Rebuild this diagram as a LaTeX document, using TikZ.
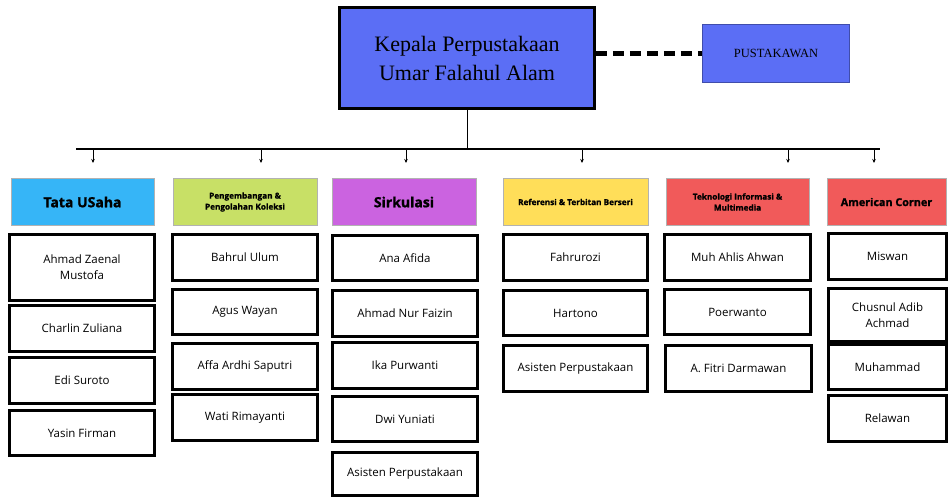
\documentclass[tikz,border=0pt]{standalone}
\usepackage{fontspec}
\setmainfont{Open Sans}
\newfontfamily\serifjudul{Liberation Serif}
\newfontfamily\tebal[BoldFeatures={FakeBold=1.2}]{Open Sans}
\usetikzlibrary{arrows.meta}

\definecolor{biruKepala}{RGB}{91,110,245}
\definecolor{biruTU}{RGB}{54,181,247}
\definecolor{hijauPP}{RGB}{200,224,102}
\definecolor{unguSK}{RGB}{203,99,224}
\definecolor{kuningRF}{RGB}{255,222,89}
\definecolor{merahTI}{RGB}{241,90,90}

\begin{document}
\begin{tikzpicture}[x=1pt, y=-1pt,
  kepala/.style={draw, line width=2.8pt, fill=biruKepala, align=center, inner sep=0pt,
    font=\serifjudul\fontsize{22}{29}\selectfont},
  pustaka/.style={draw=biruKepala!70!black, line width=0.6pt, fill=biruKepala, inner sep=0pt,
    font=\serifjudul\fontsize{12.5}{15}\selectfont},
  seksi/.style={draw=black!30, line width=0.8pt, align=center, inner sep=0pt,
    minimum height=47pt, font=\tebal\bfseries\fontsize{14}{16}\selectfont},
  seksikecil/.style={seksi, font=\tebal\bfseries\fontsize{8.2}{11}\selectfont},
  anggota/.style={draw, line width=2.9pt, align=center, inner sep=0pt,
    minimum width=145pt, minimum height=45.5pt, font=\fontsize{11.5}{16}\selectfont},
  panah/.style={-{Stealth[length=4pt,width=3.5pt]}, line width=1pt}]
  \useasboundingbox (0,0) rectangle (951,498);

  % pimpinan
  \node[kepala, minimum width=255pt, minimum height=101pt] (kepala) at (467,58)
    {Kepala Perpustakaan\\Umar Falahul Alam};
  \node[pustaka, minimum width=147pt, minimum height=58pt] (pustakawan) at (776,53.5) {PUSTAKAWAN};
  \draw[line width=4.5pt, dash pattern=on 11pt off 6pt] (pustakawan.west -| kepala.east) -- (pustakawan.west);

  % garis cabang
  \coordinate (barL) at (76,149);
  \coordinate (barR) at (880,149);
  \draw[line width=1.5pt] (barL) -- (barR);
  \draw[line width=1pt] (kepala.south) -- (kepala.south |- barL);

  \coordinate (tuA) at (93,149);   \coordinate (tuB) at (93,163);
  \coordinate (ppA) at (261,149);  \coordinate (ppB) at (261,163);
  \coordinate (skA) at (406,149);  \coordinate (skB) at (406,163);
  \coordinate (rfA) at (582,149);  \coordinate (rfB) at (582,163);
  \coordinate (tiA) at (788,149);  \coordinate (tiB) at (788,163);
  \coordinate (acA) at (874,149);  \coordinate (acB) at (874,163);
  \draw[panah] (tuA) -- (tuB);
  \draw[panah] (ppA) -- (ppB);
  \draw[panah] (skA) -- (skB);
  \draw[panah] (rfA) -- (rfB);
  \draw[panah] (tiA) -- (tiB);
  \draw[panah] (acA) -- (acB);

  % seksi
  \node[seksi, fill=biruTU, minimum width=143pt] (tu) at (82.5,202) {Tata USaha};
  \node[seksikecil, fill=hijauPP, minimum width=144pt] (pp) at (245,202) {Pengembangan \&\\Pengolahan Koleksi};
  \node[seksi, fill=unguSK, minimum width=144pt] (sk) at (404,202) {Sirkulasi};
  \node[seksikecil, fill=kuningRF, minimum width=145pt] (rf) at (575.5,202) {Referensi \& Terbitan Berseri};
  \node[seksikecil, fill=merahTI, minimum width=143pt] (ti) at (737.5,202) {Teknologi Informasi \&\\Multimedia};
  \node[seksi, fill=merahTI, minimum width=119pt, font=\tebal\bfseries\fontsize{10.8}{13}\selectfont] (ac) at (886.5,202) {American Corner};

  % tata usaha
  \node[anggota, minimum height=66.5pt] (tu1) at (82,267.5) {Ahmad Zaenal\\Mustofa};
  \node[anggota] (tu2) at (82,328.5) {Charlin Zuliana};
  \node[anggota] (tu3) at (82,380.5) {Edi Suroto};
  \node[anggota] (tu4) at (82,433) {Yasin Firman};

  % pengembangan
  \node[anggota] (pp1) at (245,257.5) {Bahrul Ulum};
  \node[anggota] (pp2) at (245,312) {Agus Wayan};
  \node[anggota] (pp3) at (245,366.5) {Affa Ardhi Saputri};
  \node[anggota] (pp4) at (245,417.5) {Wati Rimayanti};

  % sirkulasi
  \node[anggota] (sk1) at (405,258) {Ana Afida};
  \node[anggota] (sk2) at (405,313.5) {Ahmad Nur Faizin};
  \node[anggota] (sk3) at (405,365.5) {Ika Purwanti};
  \node[anggota] (sk4) at (405,419) {Dwi Yuniati};
  \node[anggota, minimum height=43.5pt] (sk5) at (405,474) {Asisten Perpustakaan};

  % referensi
  \node[anggota, minimum width=144pt] (rf1) at (575.5,257.5) {Fahrurozi};
  \node[anggota, minimum width=144pt] (rf2) at (575.5,313) {Hartono};
  \node[anggota, minimum width=144pt] (rf3) at (575.5,368.5) {Asisten Perpustakaan};

  % teknologi informasi
  \node[anggota, minimum width=146pt] (ti1) at (737.5,257.5) {Muh Ahlis Ahwan};
  \node[anggota, minimum width=146pt] (ti2) at (737.5,312) {Poerwanto};
  \node[anggota, minimum width=146pt] (ti3) at (738.5,368.5) {A. Fitri Darmawan};

  % american corner
  \node[anggota, minimum width=118pt] (ac1) at (887.5,256.5) {Miswan};
  \node[anggota, minimum width=118pt, minimum height=53pt] (ac2) at (887.5,315) {Chusnul Adib\\Achmad};
  \node[anggota, minimum width=118pt] (ac3) at (887.5,367) {Muhammad};
  \node[anggota, minimum width=118pt] (ac4) at (887.5,418.5) {Relawan};
\end{tikzpicture}
\end{document}
